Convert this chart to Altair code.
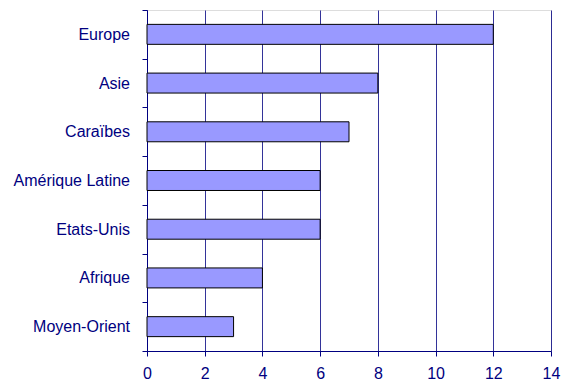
import altair as alt
import pandas as pd

regions = ["Europe", "Asie", "Caraïbes", "Amérique Latine ", "Etats-Unis", "Afrique", "Moyen-Orient"]
values = [12, 8, 7, 6, 6, 4, 3]

df = pd.DataFrame({"region": regions, "value": values})
NAVY = "#000080"

chart = alt.Chart(df).mark_bar(
    fill="#9999FF", stroke="black", strokeWidth=1,
    height=alt.RelativeBandSize(0.41),
).encode(
    x=alt.X("value:Q", scale=alt.Scale(domain=[0, 14], nice=False),
            axis=alt.Axis(title=None, values=list(range(0, 15, 2)), grid=True,
                          gridColor=NAVY, gridOpacity=0.8, domainColor=NAVY, tickColor=NAVY,
                          labelColor=NAVY, labelFont="Liberation Sans", labelFontSize=16,
                          labelFlush=False, labelOverlap=False,
                          tickSize=5, labelPadding=9)),
    y=alt.Y("region:N", sort=regions,
            scale=alt.Scale(paddingInner=0, paddingOuter=0),
            axis=alt.Axis(title=None, grid=False, tickBand="extent", domainColor=NAVY,
                          tickColor=NAVY, labelColor=NAVY, labelFont="Liberation Sans",
                          labelFontSize=16, tickSize=5, labelPadding=12.5, labelLimit=200)),
).properties(
    width=404, height=341,
    autosize=alt.AutoSizeParams(type="none"),
    padding={"left": 147, "top": 10, "right": 10, "bottom": 32},
).configure_view(stroke="#B0B0B0", strokeWidth=2).configure(background="white")

chart.save("out.html", embed_options={"renderer": "svg", "actions": False})
